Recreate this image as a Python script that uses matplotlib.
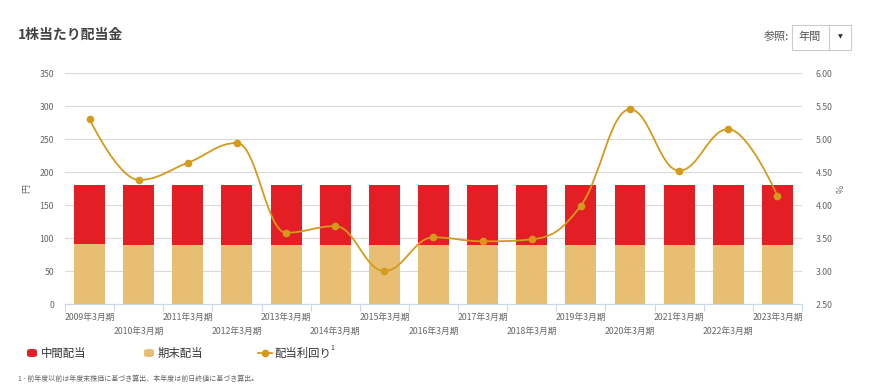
import numpy as np
import matplotlib.pyplot as plt
from matplotlib.path import Path
from matplotlib.patches import PathPatch, FancyBboxPatch, Rectangle
from matplotlib.lines import Line2D

plt.rcParams['font.family'] = ['Noto Sans CJK JP', 'DejaVu Sans']

# データ
periods = ["2009年3月期", "2010年3月期", "2011年3月期", "2012年3月期", "2013年3月期",
           "2014年3月期", "2015年3月期", "2016年3月期", "2017年3月期", "2018年3月期",
           "2019年3月期", "2020年3月期", "2021年3月期", "2022年3月期", "2023年3月期"]
final_div = [91, 89, 89, 89, 89, 89, 89, 89, 89, 89, 89, 89, 89, 89, 89]
interim_div = [89, 91, 91, 91, 91, 91, 91, 91, 91, 91, 91, 91, 91, 91, 91]
div_yield = [5.30, 4.38, 4.64, 4.94, 3.58, 3.68, 3.00, 3.51, 3.45, 3.48,
             3.99, 5.45, 4.52, 5.15, 4.14]

red = "#e31e24"
tan = "#e8bf72"
gold = "#d49a1c"
grid_c = "#d9d9d9"
txt = "#666666"


def spline_path(xs, ys, smoothing=1.5):
    # Highcharts風のスプライン(ベジェ制御点)
    n = len(xs)
    denom = smoothing + 1
    left = [(xs[i], ys[i]) for i in range(n)]
    right = [(xs[i], ys[i]) for i in range(n)]
    for i in range(1, n - 1):
        px, py = xs[i], ys[i]
        lx, ly = xs[i - 1], ys[i - 1]
        nx, ny = xs[i + 1], ys[i + 1]
        lcx = (smoothing * px + lx) / denom
        lcy = (smoothing * py + ly) / denom
        rcx = (smoothing * px + nx) / denom
        rcy = (smoothing * py + ny) / denom
        if rcx != lcx:
            corr = ((rcy - lcy) * (rcx - px)) / (rcx - lcx) + py - rcy
            lcy += corr
            rcy += corr
        if lcy > ly and lcy > py:
            lcy = max(ly, py)
            rcy = 2 * py - lcy
        elif lcy < ly and lcy < py:
            lcy = min(ly, py)
            rcy = 2 * py - lcy
        if rcy > ny and rcy > py:
            rcy = max(ny, py)
            lcy = 2 * py - rcy
        elif rcy < ny and rcy < py:
            rcy = min(ny, py)
            lcy = 2 * py - rcy
        left[i] = (lcx, lcy)
        right[i] = (rcx, rcy)
    verts = [(xs[0], ys[0])]
    codes = [Path.MOVETO]
    for i in range(1, n):
        verts += [right[i - 1], left[i], (xs[i], ys[i])]
        codes += [Path.CURVE4] * 3
    return Path(verts, codes)


fig = plt.figure(figsize=(8.7, 3.89), dpi=100)
ax = fig.add_axes([0.0747, 0.2185, 0.8471, 0.5938])
x = np.arange(len(periods))

ax.bar(x, final_div, width=0.63, color=tan, zorder=2)
ax.bar(x, interim_div, width=0.63, bottom=final_div, color=red, zorder=2)

ax.set_xlim(-0.5, len(periods) - 0.5)
ax.set_ylim(0, 350)
ax.set_yticks(range(0, 351, 50))
ax.yaxis.grid(True, color=grid_c, linewidth=0.8, zorder=0)
ax.set_axisbelow(True)
for s in ["top", "right", "left"]:
    ax.spines[s].set_visible(False)
ax.spines["bottom"].set_color("#ccd6eb")
ax.tick_params(axis="y", length=0, labelsize=6.3, labelcolor=txt, pad=8)
ax.set_ylabel("円", fontsize=6.5, color=txt, labelpad=6)

# x軸: 区切り目盛りと2段ラベル
ax.set_xticks(np.arange(-0.5, len(periods), 1.0))
ax.set_xticklabels([])
ax.tick_params(axis="x", length=5, color="#ccd6eb", width=0.8)
for i, p in enumerate(periods):
    ax.text(i, -13 if i % 2 == 0 else -35, p, ha="center", va="top",
            fontsize=6.3, color=txt)

ax2 = ax.twinx()
ax2.set_ylim(2.5, 6.0)
ax2.set_yticks(np.arange(2.5, 6.01, 0.5))
ax2.set_yticklabels([f"{v:.2f}" for v in np.arange(2.5, 6.01, 0.5)])
for s in ["top", "right", "left", "bottom"]:
    ax2.spines[s].set_visible(False)
ax2.tick_params(axis="y", length=0, labelsize=6.3, labelcolor=txt, pad=10)
ax2.set_ylabel("%", fontsize=6.5, color=txt, labelpad=3)

ax2.add_patch(PathPatch(spline_path(x, div_yield), facecolor="none",
                        edgecolor=gold, linewidth=1.3, zorder=3))
ax2.plot(x, div_yield, linestyle="none", marker="o", markersize=4.5,
         color=gold, zorder=4)

# タイトル
fig.text(18 / 870, 1 - 35 / 389, "1株当たり配当金", fontsize=10, fontweight="bold",
         color="#444444", va="center", ha="left")

# 参照ドロップダウン
fig.text(789 / 870, 1 - 37 / 389, "参照:", fontsize=8, color="#555555",
         va="center", ha="right")
fig.patches.append(Rectangle((792 / 870, 1 - 50 / 389), 59 / 870, 25 / 389,
                             transform=fig.transFigure, facecolor="white",
                             edgecolor="#cccccc", linewidth=0.8))
fig.lines.append(Line2D([829 / 870, 829 / 870], [1 - 50 / 389, 1 - 25 / 389],
                        transform=fig.transFigure, color="#cccccc", linewidth=0.8))
fig.text(810 / 870, 1 - 37 / 389, "年間", fontsize=8, color="#555555",
         va="center", ha="center")
fig.text(840 / 870, 1 - 37 / 389, "▼", fontsize=4.5, color="#333333",
         va="center", ha="center", family="DejaVu Sans")

# 凡例
ly = 1 - 353 / 389
fig.patches.append(FancyBboxPatch((27 / 870, ly - 4 / 389), 10 / 870, 8 / 389,
                                  boxstyle="round,pad=0,rounding_size=0.005",
                                  transform=fig.transFigure, facecolor=red,
                                  edgecolor="none"))
fig.text(41 / 870, ly, "中間配当", fontsize=8.2, color="#333333", va="center")
fig.patches.append(FancyBboxPatch((144 / 870, ly - 4 / 389), 10 / 870, 8 / 389,
                                  boxstyle="round,pad=0,rounding_size=0.005",
                                  transform=fig.transFigure, facecolor=tan,
                                  edgecolor="none"))
fig.text(158 / 870, ly, "期末配当", fontsize=8.2, color="#333333", va="center")
fig.lines.append(Line2D([258 / 870, 272 / 870], [ly, ly], transform=fig.transFigure,
                        color=gold, linewidth=1.3))
fig.lines.append(Line2D([265 / 870], [ly], transform=fig.transFigure,
                        color=gold, marker="o", markersize=4.5, linestyle="none"))
fig.text(274 / 870, ly, "配当利回り", fontsize=8.2, color="#333333", va="center")
fig.text(330.5 / 870, ly + 5 / 389, "1", fontsize=5, color="#333333", va="center")

# 注記
fig.text(18 / 870, 1 - 379 / 389,
         "1 - 前年度以前は年度末株価に基づき算出、本年度は前日終値に基づき算出。",
         fontsize=5, color="#666666", va="center")

fig.savefig("out.png", dpi=100)
